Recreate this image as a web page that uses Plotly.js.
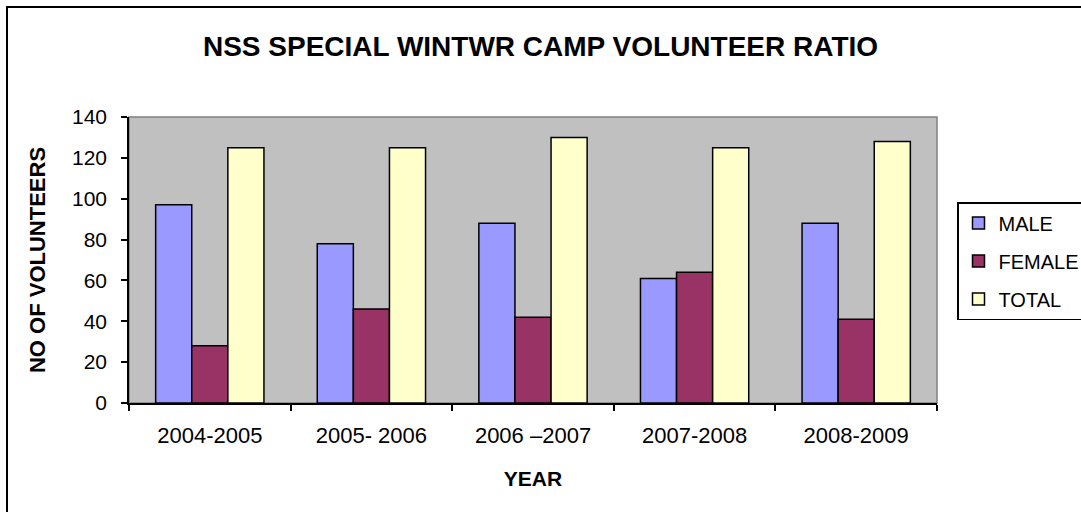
<!DOCTYPE html>
<html>
<head>
<meta charset="utf-8">
<script src="https://cdn.plot.ly/plotly-3.0.1.min.js"></script>
<style>html,body{margin:0;padding:0;background:#fff;}#chart{width:1081px;height:512px;}</style>
</head>
<body>
<div id="chart"></div>
<script>
var years = ["2004-2005", "2005- 2006", "2006 \u20132007", "2007-2008", "2008-2009"];
var male = [97, 78, 88, 61, 88];
var female = [28, 46, 42, 64, 41];
var total = [125, 125, 130, 125, 128];
var yTicks = [0, 20, 40, 60, 80, 100, 120, 140];

var FONT = "Liberation Sans, Arial, sans-serif";
function bar(name, vals, color, grp) {
  return {
    type: "bar", name: name, x: years, y: vals, legendgroup: grp,
    marker: {color: color, line: {color: "#000000", width: 1.5}},
    hoverinfo: "x+y+name"
  };
}
var data = [
  bar("MALE", male, "#9999FF", "a"),
  bar("FEMALE", female, "#993366", "b"),
  bar("TOTAL", total, "#FFFFCC", "c")
];
var W = 1081, H = 512;
var L = 129, R = 937, T = 117, B = 403;
var pw = R - L, ph = B - T;
function px(x) { return (x - L) / pw; }
function py(y) { return (B - y) / ph; }
var layout = {
  width: W, height: H,
  margin: {l: L, r: W - R, t: T, b: H - B, pad: 0, autoexpand: false},
  paper_bgcolor: "#ffffff",
  plot_bgcolor: "#C0C0C0",
  font: {family: FONT, color: "#000000", size: 20},
  barmode: "group",
  bargap: 0.33,
  bargroupgap: 0,
  title: {
    text: "<b>NSS SPECIAL WINTWR CAMP VOLUNTEER RATIO</b>",
    font: {family: FONT, size: 28, color: "#000000"},
    x: 0.5, xref: "container", xanchor: "center",
    y: 1 - 46 / H, yref: "container", yanchor: "middle"
  },
  xaxis: {
    type: "category",
    showline: true, linecolor: "#000000", linewidth: 1.5,
    ticks: "outside", tickson: "boundaries", ticklen: 6, tickcolor: "#000000", tickwidth: 1.5,
    ticklabelstandoff: 12,
    tickfont: {family: FONT, size: 22},
    showgrid: false, zeroline: false, fixedrange: true,
    title: {text: "<b>YEAR</b>", font: {family: FONT, size: 21}, standoff: 24}
  },
  yaxis: {
    range: [0, 140], tickmode: "array", tickvals: yTicks,
    showline: true, linecolor: "#000000", linewidth: 1.5,
    ticks: "outside", ticklen: 6, tickcolor: "#000000", tickwidth: 1.5,
    ticklabelstandoff: 10,
    tickfont: {family: FONT, size: 21},
    showgrid: false, zeroline: false, fixedrange: true,
    title: {text: "<b>NO OF VOLUNTEERS</b>", font: {family: FONT, size: 22}, standoff: 20}
  },
  legend: {
    xref: "container", yref: "container",
    x: 957 / W, xanchor: "left", y: 1 - 202 / H, yanchor: "top",
    bordercolor: "#000000", borderwidth: 1.5, bgcolor: "#ffffff",
    font: {family: FONT, size: 20}, traceorder: "grouped", tracegroupgap: 9,
    itemwidth: 30,
    itemclick: false, itemdoubleclick: false
  },
  shapes: [
    {type: "rect", xref: "paper", yref: "paper", x0: 0, x1: 1, y0: 0, y1: 1,
     line: {color: "#808080", width: 1.5}, layer: "below"},
    {type: "rect", xref: "paper", yref: "paper", x0: px(7), x1: px(1100), y0: py(530), y1: py(7),
     line: {color: "#000000", width: 2}, fillcolor: "rgba(0,0,0,0)", layer: "above"}
  ],
  showlegend: true
};
Plotly.newPlot("chart", data, layout, {displayModeBar: false});
</script>
</body>
</html>
